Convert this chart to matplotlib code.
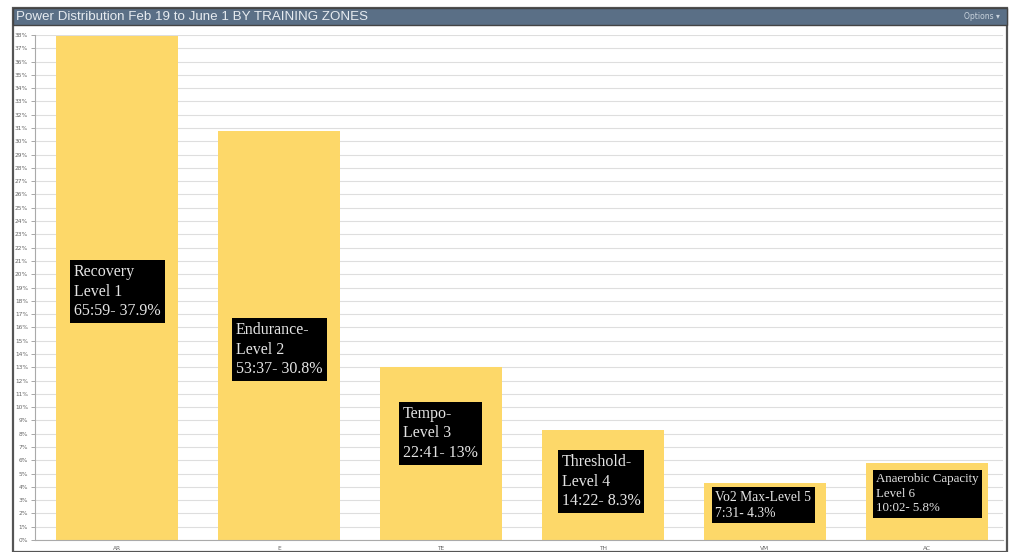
import matplotlib
matplotlib.use("Agg")
import matplotlib.pyplot as plt
from matplotlib.patches import Rectangle

# ---- data ----
zones = ["AR", "E", "TE", "TH", "VM", "AC"]
percent = [37.9, 30.8, 13.0, 8.3, 4.3, 5.8]
labels = [
    "Recovery\nLevel 1\n65:59- 37.9%",
    "Endurance-\nLevel 2\n53:37- 30.8%",
    "Tempo-\nLevel 3\n22:41- 13%",
    "Threshold-\nLevel 4\n14:22- 8.3%",
    "Vo2 Max-Level 5\n7:31- 4.3%",
    "Anaerobic Capacity\nLevel 6\n10:02- 5.8%",
]
yticks = list(range(0, 39))

# label box anchors (top-left, in axis units)
label_y = [20.75, 16.4, 10.1, 6.45, 3.7, 5.05]
label_dx = [0.11, 0.11, 0.14, 0.12, 0.07, 0.06]
label_fs = [11.5, 11.5, 11.5, 11.5, 9.8, 9.3]

W, H = 1011, 552
fig = plt.figure(figsize=(W / 100, H / 100), dpi=100)
fig.patch.set_facecolor("white")

# outer panel frame + title bar
fig.patches.append(Rectangle((13 / W, 0), 994 / W, 544 / H, transform=fig.transFigure,
                             fill=False, edgecolor="#555555", linewidth=1.6))
fig.patches.append(Rectangle((13 / W, 527 / H), 994 / W, 17 / H, transform=fig.transFigure,
                             facecolor="#5a6f86", edgecolor="#444444", linewidth=1))
fig.text(16 / W, 535.5 / H, "Power Distribution Feb 19 to June 1 BY TRAINING ZONES",
         color="#e6ebf0", fontsize=9.6, family="Liberation Sans", va="center", ha="left")
fig.text(1000 / W, 535.5 / H, "Options \u25be", color="#c9d3dd", fontsize=5.5,
         family="DejaVu Sans", va="center", ha="right")

ax = fig.add_axes([35 / W, 12 / H, 968 / W, 505 / H])
x = list(range(len(zones)))
ax.bar(x, percent, width=0.75, color="#fdd869", zorder=2)
ax.set_xlim(-0.506, 5.47)
ax.set_ylim(0, 38)

ax.set_yticks(yticks)
ax.set_yticklabels([f"{t}%" for t in yticks], fontsize=4.2, color="#666666")
ax.set_xticks(x)
ax.set_xticklabels(zones, fontsize=4.2, color="#666666")
ax.tick_params(axis="y", length=3, width=0.6, color="#999999", pad=2)
ax.tick_params(axis="x", length=0, pad=4)
ax.yaxis.grid(True, color="#dedede", linewidth=0.8, zorder=0)
ax.set_axisbelow(True)
for side in ["top", "right"]:
    ax.spines[side].set_visible(False)
ax.spines["left"].set_color("#aaaaaa")
ax.spines["bottom"].set_color("#aaaaaa")
ax.spines["left"].set_linewidth(0.8)
ax.spines["bottom"].set_linewidth(0.8)

for i, txt in enumerate(labels):
    ax.text(i - 0.375 + label_dx[i], label_y[i], txt, ha="left", va="top",
            fontsize=label_fs[i], family="Liberation Serif", color="#e4e4e4",
            linespacing=1.3, zorder=4,
            bbox=dict(boxstyle="square,pad=0.25", facecolor="black", edgecolor="none"))

fig.savefig("out.png", dpi=100)
